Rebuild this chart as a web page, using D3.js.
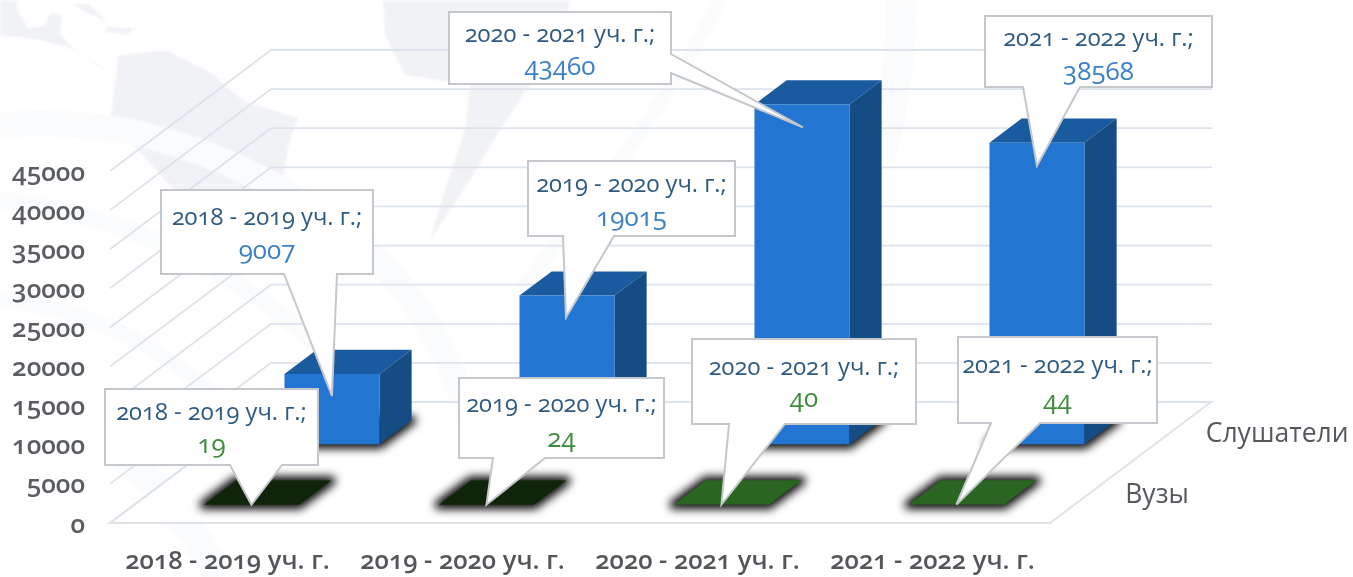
<!DOCTYPE html>
<html><head><meta charset="utf-8">
<style>
html,body{margin:0;padding:0;background:#fff;overflow:hidden}
svg{display:block}
text{font-family:"Open Sans","Noto Sans",sans-serif;font-feature-settings:"onum" 1;font-variant-numeric:oldstyle-nums}
</style>
<script src="https://cdn.jsdelivr.net/npm/d3@7/dist/d3.min.js"></script>
</head><body><svg id="c" width="1353" height="577"></svg>
<script>
const categories=["2018 - 2019 уч. г.","2019 - 2020 уч. г.","2020 - 2021 уч. г.","2021 - 2022 уч. г."];
const seriesNames=["Вузы","Слушатели"];
const vuzy=[19,24,40,44];
const slushateli=[9007,19015,43460,38568];
const yTicks=[0,5000,10000,15000,20000,25000,30000,35000,40000,45000];
const vuzyColors=["#0f2409","#0f2409","#2a6622","#2a6622"];

const svg=d3.select("#c");
const x=d3.scaleBand().domain(categories).range([109.8,1049.8]).paddingInner(0.596).paddingOuter(0.298);
const xCenter=d3.scaleBand().domain(categories).range([110,1050]);
const y=d3.scaleLinear().domain([0,45000]).range([523,171]);
const z=d3.scaleBand().domain(seriesNames).range([0,1]).paddingInner(0.6).paddingOuter(0.3);
const DX=161,DY=-121;
const P=(px,v,d)=>[px+d*DX,y(v)+d*DY];
const line=d3.line();
const poly=pts=>line(pts)+"Z";

const defs=svg.append("defs");
const blur=(id,s)=>defs.append("filter").attr("id",id).attr("x","-30%").attr("y","-60%").attr("width","160%").attr("height","220%")
  .append("feGaussianBlur").attr("stdDeviation",s);
blur("sh",4.5);blur("soft",0.4);blur("bgb",1.2);

// faint background map
const bg=svg.append("g").attr("fill","#f0f2f5").attr("filter","url(#bgb)");
[
"M0,0 L16,0 L18,12 L28,28 L44,26 L50,13 L62,14 L60,34 L75,50 L98,66 L112,72 L104,68 L70,48 L40,40 L0,35 Z",
"M72,4 L88,4 L108,22 L90,14 Z M108,27 L135,28 L128,34 L105,32 Z",
"M118,56 L165,50 L210,72 L245,102 L298,118 L290,140 L283,175 L262,225 L240,262 L232,280 L215,268 L175,190 L145,158 L110,120 L115,85 Z",
"M383,0 L385,35 L405,75 L470,85 L465,130 L445,190 L430,240 L470,180 L500,130 L530,85 L560,40 L570,0 Z"
].forEach(d=>bg.append("path").attr("d",d));
const sw=svg.append("g").attr("fill","none").attr("stroke","#fafbfc").attr("filter","url(#bgb)");
[["M0,125 Q170,110 330,220 Q430,290 470,420",26],["M0,200 Q170,220 300,330 Q360,380 400,470",18],["M0,300 Q120,310 220,400",16],
 ["M120,450 Q190,520 220,577",30],["M720,0 Q660,120 520,290",14],["M900,0 Q905,60 880,160",30]]
 .forEach(([d,w])=>sw.append("path").attr("d",d).attr("stroke-width",w));

// walls and gridlines
const g=svg.append("g");
g.append("path").attr("d",poly([P(110,0,0),P(1050,0,0),P(1050,0,1),P(110,0,1)])).attr("fill","#ffffff").attr("fill-opacity",.75).attr("stroke","#e0e3e8").attr("stroke-width",2);
g.selectAll("path.grid").data(yTicks).join("path").attr("class","grid")
 .attr("fill","none").attr("stroke","#dde3ec").attr("stroke-width",1.8)
 .attr("d",v=>line([P(110,v,0),P(110,v,1),P(1051,v,1)]));

// axes
const axisY=svg.append("g").attr("transform","translate(85,0)")
 .call(d3.axisLeft(y).tickValues(yTicks).tickSize(0).tickPadding(0).tickFormat(d3.format("d")));
axisY.select(".domain").remove();
axisY.selectAll("text").attr("x",0).attr("dy",9).attr("fill","#5a5d62").attr("font-size",26).attr("font-weight",600).attr("filter","url(#soft)");
const axisX=svg.append("g").attr("transform","translate(0,523)")
 .call(d3.axisBottom(xCenter).tickSize(0).tickPadding(0));
axisX.select(".domain").remove();
axisX.selectAll("text").attr("y",46).attr("dy",0).attr("fill","#55575b").attr("font-size",25.5).attr("font-weight",600).attr("filter","url(#soft)");
svg.append("g").selectAll("text").data(seriesNames).join("text")
 .attr("x",s=>P(1050,0,z(s)+z.bandwidth()/2)[0]+35)
 .attr("y",s=>P(1050,0,z(s)+z.bandwidth()/2)[1]+10)
 .attr("fill","#55595e").attr("font-size",26.5).attr("filter","url(#soft)").text(s=>s);

// bars
function bar(sel,cat,val,s,colors){
 const x0=x(cat),x1=x0+x.bandwidth(),d0=z(s),d1=d0+z.bandwidth();
 const foot=[P(x0,0,d0),P(x1,0,d0),P(x1,0,d1),P(x0,0,d1)];
 sel.append("path").attr("d",poly(foot)).attr("fill","#000").attr("stroke","#000").attr("stroke-width",10).attr("stroke-linejoin","round").attr("fill-opacity",.9).attr("stroke-opacity",.85).attr("filter","url(#sh)");
 sel.append("path").attr("d",poly([P(x0,val,d0),P(x1,val,d0),P(x1,val,d1),P(x0,val,d1)])).attr("fill",colors[1]);
 sel.append("path").attr("d",poly([P(x1,0,d0),P(x1,0,d1),P(x1,val,d1),P(x1,val,d0)])).attr("fill",colors[2]);
 sel.append("path").attr("d",poly([P(x0,0,d0),P(x1,0,d0),P(x1,val,d0),P(x0,val,d0)])).attr("fill",colors[0]);
}
const bars=svg.append("g");
categories.forEach((c,i)=>bar(bars.append("g"),c,slushateli[i],"Слушатели",["#2276d2","#1a5a9e","#154c84"]));
categories.forEach((c,i)=>bar(bars.append("g"),c,vuzy[i],"Вузы",[vuzyColors[i],vuzyColors[i],vuzyColors[i]]));

// callouts: box [left,top,right,bottom], tail base, baselines
const layoutS=[
 {b:[161,190,373,274],t:[[337,274],[284,274]],ty:225,vy:259,off:[0,22]},
 {b:[528,161,735,236],t:[[614,236],[563,236]],ty:192,vy:226,off:[-1,22]},
 {b:[449,12,671,84],t:[[671,54],[671,73]],ty:42,vy:75,off:[1,23]},
 {b:[985,16,1212,87],t:[[1080,87],[1023,87]],ty:46,vy:80,off:[0,23]}];
const layoutV=[
 {b:[105,389,318,465],t:[[282,465],[230,465]],ty:420,vy:453},
 {b:[459,378,664,458],t:[[545,458],[493,458]],ty:412,vy:447},
 {b:[692,339,916,424],t:[[785,424],[729,424]],ty:375,vy:407},
 {b:[958,337,1157,423],t:[[1040,423],[991,423]],ty:373,vy:409}];
function callout(cat,val,s,L,color){
 const d0=z(s),cx=x(cat)+x.bandwidth()/2;
 const tip=P(cx,val,d0);
 if(L.off){tip[0]+=L.off[0];tip[1]+=L.off[1];}
 const [l,t,r,bt]=L.b;
 const gg=svg.append("g");
 let pts;
 if(L.t[0][0]===r&&L.t[1][0]===r) pts=[[l,t],[r,t],L.t[0],tip,L.t[1],[r,bt],[l,bt]];
 else pts=[[l,t],[r,t],[r,bt],L.t[0],tip,L.t[1],[l,bt]];
 gg.append("path").attr("d",poly(pts)).attr("fill","#fff").attr("stroke","#c4c8cd").attr("stroke-width",2);
 const mx=(l+r)/2;
 gg.append("text").attr("x",mx).attr("y",L.ty).attr("text-anchor","middle").attr("font-size",23.7).attr("fill","#2f5a82").attr("filter","url(#soft)").text(cat+";");
 gg.append("text").attr("x",mx).attr("y",L.vy).attr("text-anchor","middle").attr("font-size",26).attr("fill",color).attr("filter","url(#soft)").text(val);
}
categories.forEach((c,i)=>callout(c,slushateli[i],"Слушатели",layoutS[i],"#3a80c8"));
categories.forEach((c,i)=>callout(c,vuzy[i],"Вузы",layoutV[i],"#3d8c3a"));
</script></body></html>
